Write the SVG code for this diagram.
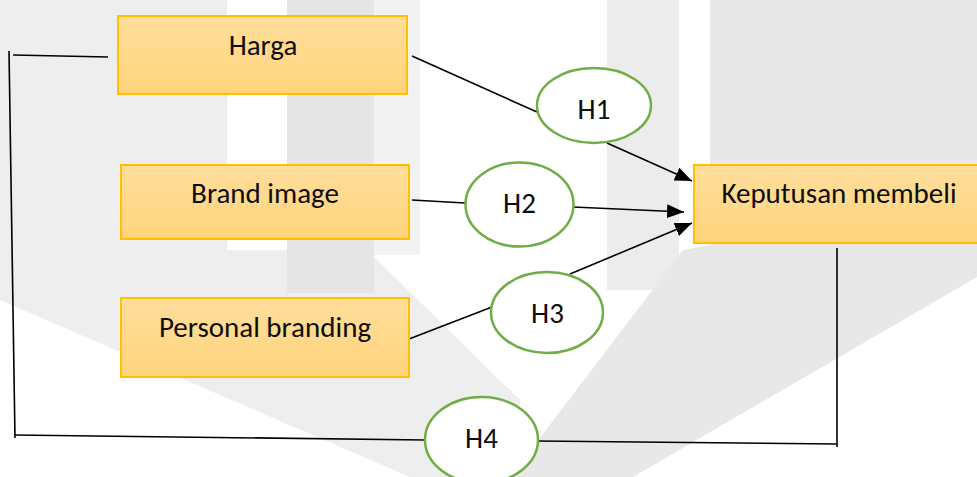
<svg xmlns="http://www.w3.org/2000/svg" width="977" height="477" viewBox="0 0 977 477">
<style>
.box{stroke:#FFC000;stroke-width:2;fill:url(#g)}
.hyp{fill:#fff;stroke:#70AD47;stroke-width:2.5}
.lbl{font-family:Calibri,Carlito,"Open Sans",sans-serif;font-size:29px;fill:#0d0d0d;text-anchor:middle}
.ln{stroke:#000;stroke-width:1.6;fill:none}
.wm{stroke:none}
</style>
<defs>
<linearGradient id="g" x1="0" y1="0" x2="0" y2="1">
<stop offset="0" stop-color="#FFDE9C"/>
<stop offset="1" stop-color="#FFD47C"/>
</linearGradient>
<marker id="ah" markerUnits="userSpaceOnUse" markerWidth="18" markerHeight="14" refX="17" refY="7" orient="auto">
<path d="M0,0 L17,7 L0,14 Z" fill="#000"/>
</marker>
</defs>
<rect width="977" height="477" fill="#fff"/>
<g id="watermark">
<polygon class="wm" fill="#EEEEEE" points="0,0 227,0 227,250 367,250 520,400 520,477 410,477 0,300"/>
<polygon class="wm" fill="#E5E5E5" points="287,0 374,0 374,293 287,293"/>
<polygon class="wm" fill="#F2F2F2" points="374,0 420,0 420,255 374,255"/>
<polygon class="wm" fill="#ECECEC" points="607,0 679,0 679,290 607,290"/>
<polygon class="wm" fill="#E8E8E8" points="710,0 977,0 977,277 633,477 510,477 683,250 710,245"/>
</g>
<g id="connectors">
<line class="ln" x1="412" y1="56" x2="537" y2="112"/>
<line class="ln" x1="607" y1="143" x2="692" y2="181" marker-end="url(#ah)"/>
<line class="ln" x1="412" y1="200" x2="465" y2="203"/>
<line class="ln" x1="573" y1="207" x2="684" y2="212" marker-end="url(#ah)"/>
<line class="ln" x1="409" y1="339" x2="492" y2="307"/>
<line class="ln" x1="570" y1="274" x2="692" y2="223" marker-end="url(#ah)"/>
<polyline class="ln" points="108,57 13,55"/>
<line class="ln" x1="9" y1="51" x2="15" y2="438"/>
<line class="ln" x1="15" y1="435" x2="425" y2="440"/>
<line class="ln" x1="538" y1="441" x2="837" y2="444"/>
<line class="ln" x1="837" y1="248" x2="837" y2="447"/>
</g>
<g id="harga">
<rect class="box" x="118" y="16" width="289" height="78"/>
<text class="lbl" x="263" y="55">Harga</text>
</g>
<g id="brand-image">
<rect class="box" x="121" y="165" width="288" height="74"/>
<text class="lbl" x="265" y="203">Brand image</text>
</g>
<g id="personal-branding">
<rect class="box" x="121" y="298" width="288" height="79"/>
<text class="lbl" x="265" y="337">Personal branding</text>
</g>
<g id="keputusan-membeli">
<rect class="box" x="694" y="165" width="285" height="78"/>
<text class="lbl" x="839" y="203">Keputusan membeli</text>
</g>
<g id="h1">
<ellipse class="hyp" cx="594" cy="105.5" rx="57" ry="37.5"/>
<text class="lbl" x="594" y="119">H1</text>
</g>
<g id="h2">
<ellipse class="hyp" cx="519.5" cy="204.5" rx="54" ry="42"/>
<text class="lbl" x="519.5" y="213">H2</text>
</g>
<g id="h3">
<ellipse class="hyp" cx="547" cy="312.5" rx="56" ry="40.5"/>
<text class="lbl" x="547.5" y="323">H3</text>
</g>
<g id="h4">
<ellipse class="hyp" cx="481.5" cy="440" rx="56.5" ry="43"/>
<text class="lbl" x="481.5" y="448">H4</text>
</g>
</svg>
